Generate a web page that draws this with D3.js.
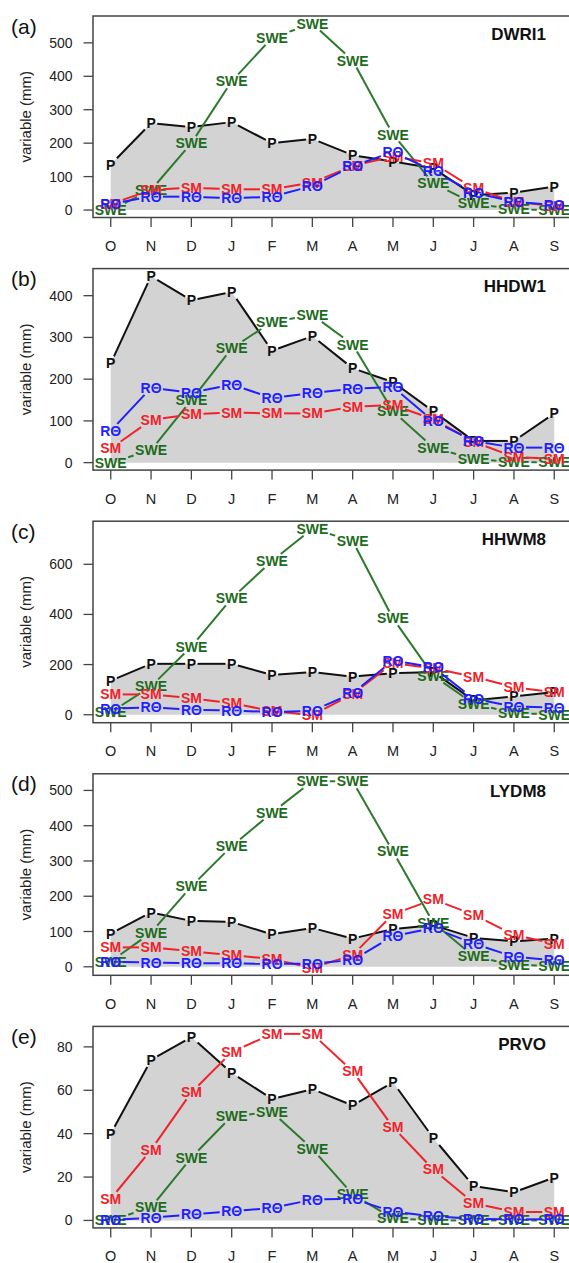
<!DOCTYPE html>
<html>
<head>
<meta charset="utf-8">
<script src="https://cdn.jsdelivr.net/npm/d3@7"></script>
<style>
  body { margin: 0; background: #fff; }
  svg { display: block; font-family: "Liberation Sans", Arial, sans-serif; }
</style>
</head>
<body>
<div id="chart"></div>
<script>
// months, Oct -> Sep
var months = ["O", "N", "D", "J", "F", "M", "A", "M", "J", "J", "A", "S"];

var stations = ["DWRI1", "HHDW1", "HHWM8", "LYDM8", "PRVO"];
var panelTags = ["(a)", "(b)", "(c)", "(d)", "(e)"];

// precipitation (P)
var pData = [
  [136, 260, 248, 263, 200, 213, 164, 145, 125, 45, 52, 70],
  [238, 447, 389, 409, 268, 303, 226, 193, 123, 52, 52, 118],
  [136, 203, 203, 203, 159, 170, 152, 166, 170, 57, 73, 90],
  [94, 154, 130, 127, 92, 110, 80, 107, 118, 82, 72, 80],
  [40, 74, 84.5, 68, 56, 60.5, 53, 63.7, 38, 15.8, 13, 19.8]
];
// snow water equivalent (SWE)
var sweData = [
  [0, 60, 200, 385, 515, 558, 447, 226, 80, 20, 2, 0],
  [0, 30, 150, 274, 337, 354, 283, 123, 36, 9, 1, 1],
  [10, 113, 272, 464, 613, 742, 693, 384, 156, 44, 7, 1],
  [15, 97, 228, 342, 437, 526, 526, 327, 125, 30, 5, 3],
  [0, 6, 29, 48, 50, 33, 12, 1, 0, 0, 0, 0]
];
// soil moisture (SM)
var smData = [
  [18, 60, 67, 62, 62, 82, 132, 160, 140, 65, 25, 12],
  [34, 102, 116, 120, 118, 118, 134, 138, 104, 50, 14, 9],
  [81, 81, 66, 46, 15, -2, 83, 205, 185, 152, 110, 90],
  [55, 55, 44, 33, 22, -3, 33, 149, 191, 148, 90, 66],
  [10, 32.5, 59, 77.6, 86, 86, 68.8, 43, 23.5, 8, 3.9, 3.9]
];
// runoff (RO)
var roData = [
  [18, 40, 40, 35, 40, 72, 131, 174, 117, 52, 25, 15],
  [76, 179, 168, 187, 155, 167, 177, 181, 100, 52, 36, 36],
  [24, 30, 20, 17, 11, 15, 86, 216, 189, 64, 33, 28],
  [14, 12, 10, 10, 8, 9, 19, 87, 110, 66, 28, 19],
  [0.3, 1.2, 2.8, 4.2, 5.7, 9.6, 10, 4, 1.9, 0.8, 0.5, 0.5]
];

var yTicks = [
  [0, 100, 200, 300, 400, 500],
  [0, 100, 200, 300, 400],
  [0, 200, 400, 600],
  [0, 100, 200, 300, 400, 500],
  [0, 20, 40, 60, 80]
];

var W = 569, H = 1263;
var panelH = 252.6;
var boxLeft = 93, boxRight = 572, boxTopOff = 16, boxH = 201.5;

var svg = d3.select("#chart").append("svg")
  .attr("width", W)
  .attr("height", H);

var x = d3.scaleLinear()
  .domain([-0.44, 11.44])
  .range([boxLeft, boxRight]);

// series styles, drawn in this order
var seriesDefs = [
  {name: "P", label: "P", line: "#111", text: "#111"},
  {name: "SWE", label: "SWE", line: "#2b7a2b", text: "#1c6b1c"},
  {name: "SM", label: "SM", line: "#f0222a", text: "#f0222a"},
  {name: "RO", label: "RO", line: "#1f1fff", text: "#1f1fff"}
];

// shorten segment so it stops at the label boxes (like R type="b")
function clipT(dx, dy, hw, hh) {
  var tx = dx === 0 ? Infinity : hw / Math.abs(dx);
  var ty = dy === 0 ? Infinity : hh / Math.abs(dy);
  return Math.min(tx, ty);
}

function drawPanel(i) {
  var boxTop = boxTopOff + i * panelH;
  var boxBottom = boxTop + boxH;
  var series = {P: pData[i], SWE: sweData[i], SM: smData[i], RO: roData[i]};
  var all = pData[i].concat(sweData[i], smData[i], roData[i]);
  var mn = d3.min(all), mx = d3.max(all), pad = (mx - mn) * 0.04;

  var y = d3.scaleLinear()
    .domain([mn - pad, mx + pad])
    .range([boxBottom, boxTop]);

  var g = svg.append("g");

  // grey area under precipitation
  var area = d3.area()
    .x(function(d, j) { return x(j); })
    .y0(y(0))
    .y1(function(d) { return y(d); });
  g.append("path")
    .datum(pData[i])
    .attr("d", area)
    .attr("fill", "#d3d3d3");

  // series: lines with gaps + text markers
  seriesDefs.forEach(function(s) {
    var vals = series[s.name];
    var sg = g.append("g");
    var lg = sg.append("g");
    var tg = sg.append("g");
    var widths = [];
    vals.forEach(function(v, j) {
      var t = tg.append("text")
        .attr("x", x(j))
        .attr("y", y(v))
        .attr("dy", "0.36em")
        .attr("text-anchor", "middle")
        .attr("font-size", 14)
        .attr("font-weight", "bold")
        .attr("fill", s.text)
        .text(s.label);
      var w = t.node().getComputedTextLength();
      widths.push(w);
      if (s.name === "RO") {
        var oc = x(j) + w / 2 - 5.4;
        tg.append("line")
          .attr("x1", oc - 2.2).attr("x2", oc + 2.2)
          .attr("y1", y(v)).attr("y2", y(v))
          .attr("stroke", s.text)
          .attr("stroke-width", 1.6);
      }
    });
    for (var j = 0; j < vals.length - 1; j++) {
      var x1 = x(j), y1 = y(vals[j]), x2 = x(j + 1), y2 = y(vals[j + 1]);
      var dx = x2 - x1, dy = y2 - y1;
      var t1 = clipT(dx, dy, widths[j] / 2 + 1.5, 7);
      var t2 = clipT(dx, dy, widths[j + 1] / 2 + 1.5, 7);
      if (t1 + t2 >= 1) continue;
      lg.append("line")
        .attr("x1", x1 + dx * t1).attr("y1", y1 + dy * t1)
        .attr("x2", x2 - dx * t2).attr("y2", y2 - dy * t2)
        .attr("stroke", s.line)
        .attr("stroke-width", 2);
    }
  });

  // frame
  g.append("rect")
    .attr("x", boxLeft).attr("y", boxTop)
    .attr("width", boxRight - boxLeft).attr("height", boxH)
    .attr("fill", "none")
    .attr("stroke", "#444")
    .attr("stroke-width", 1.5);

  // y axis ticks
  yTicks[i].forEach(function(t) {
    g.append("line")
      .attr("x1", boxLeft - 9.5).attr("x2", boxLeft)
      .attr("y1", y(t)).attr("y2", y(t))
      .attr("stroke", "#444").attr("stroke-width", 1.3);
    g.append("text")
      .attr("x", 72.5).attr("y", y(t))
      .attr("dy", "0.36em")
      .attr("text-anchor", "end")
      .attr("font-size", 14)
      .attr("fill", "#222")
      .text(t);
  });

  // x axis ticks
  months.forEach(function(m, j) {
    g.append("line")
      .attr("x1", x(j)).attr("x2", x(j))
      .attr("y1", boxBottom).attr("y2", boxBottom + 9.5)
      .attr("stroke", "#444").attr("stroke-width", 1.3);
    g.append("text")
      .attr("x", x(j)).attr("y", boxBottom + 33.5)
      .attr("text-anchor", "middle")
      .attr("font-size", 14.5)
      .attr("fill", "#222")
      .text(m);
  });

  // axis title
  g.append("text")
    .attr("transform", "translate(31," + (boxTop + boxH / 2) + ") rotate(-90)")
    .attr("text-anchor", "middle")
    .attr("font-size", 15)
    .attr("fill", "#222")
    .text("variable (mm)");

  // panel tag
  g.append("text")
    .attr("x", 11).attr("y", boxTop + 17.5)
    .attr("font-size", 21)
    .attr("fill", "#111")
    .text(panelTags[i]);

  // station name
  g.append("text")
    .attr("x", 546).attr("y", boxTop + 23.5)
    .attr("text-anchor", "end")
    .attr("font-size", 17)
    .attr("font-weight", "bold")
    .attr("fill", "#111")
    .text(stations[i]);
}

for (var i = 0; i < 5; i++) drawPanel(i);
</script>
</body>
</html>
